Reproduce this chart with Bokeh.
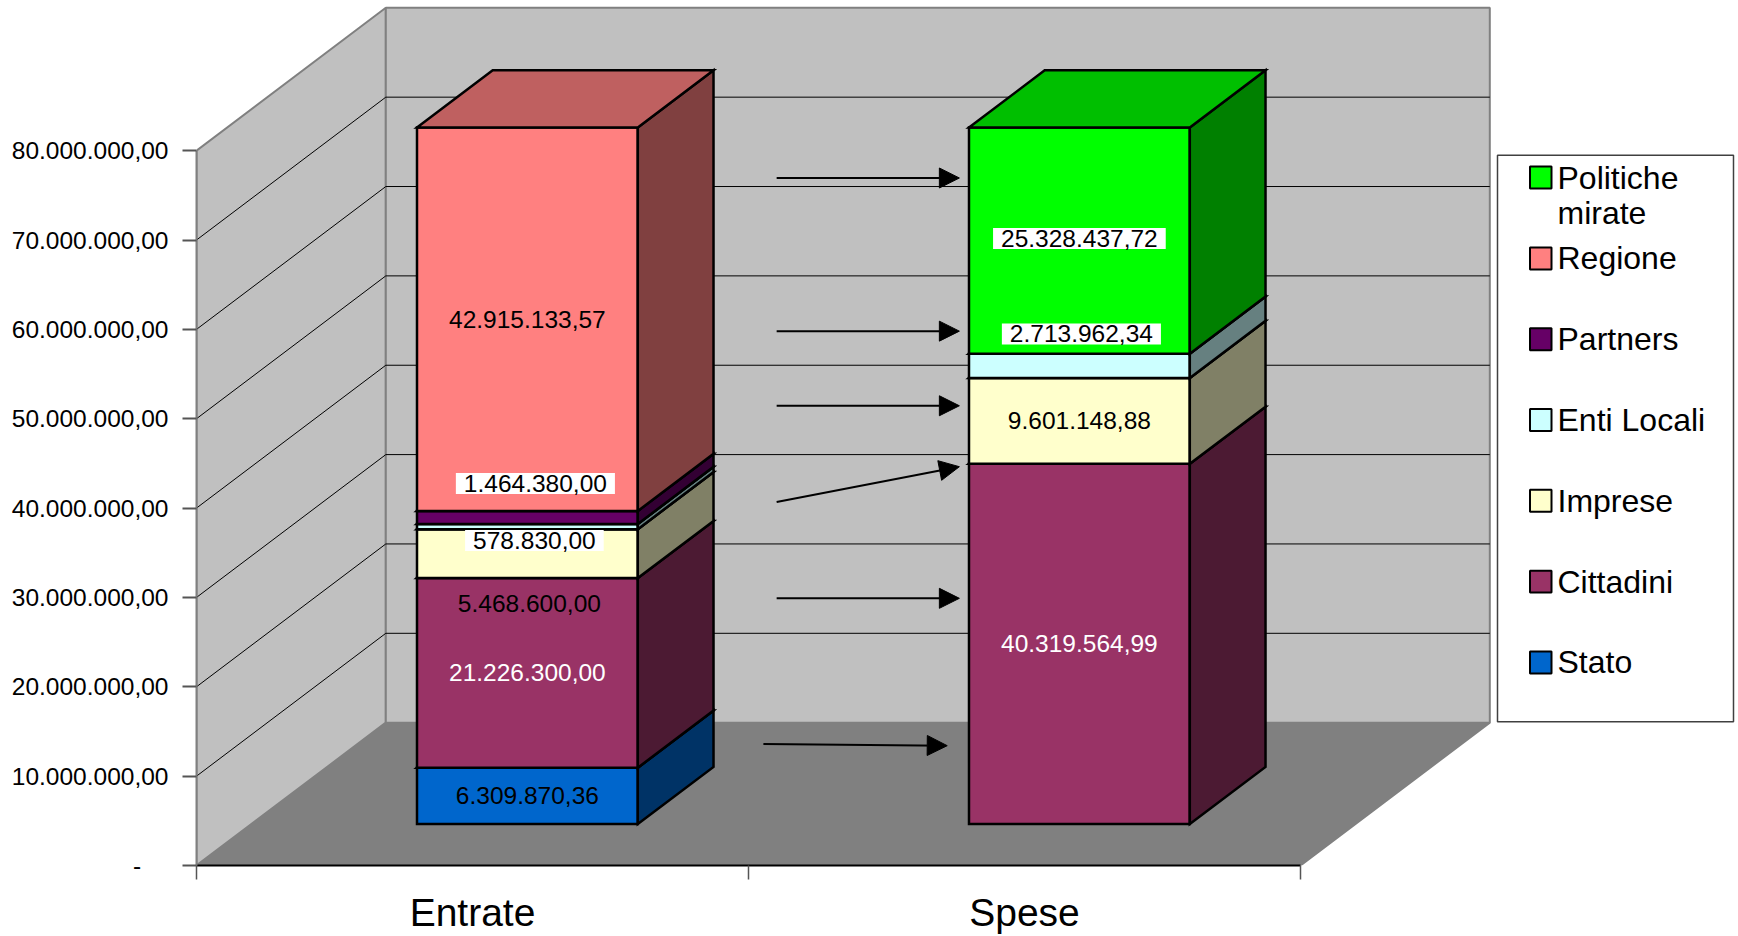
from bokeh.plotting import figure
from bokeh.models import Range1d, FixedTicker, Label, Arrow, NormalHead, ColumnDataSource
from bokeh.core.properties import value
from bokeh.embed import file_html
from bokeh.resources import INLINE

# ---------------------------------------------------------------- data
categories = ["Entrate", "Spese"]
series = ["Stato", "Cittadini", "Imprese", "Enti Locali", "Partners", "Regione", "Politiche mirate"]
stato = [6309870.36, 0.0]
cittadini = [21226300.00, 40319564.99]
imprese = [5468600.00, 9601148.88]
enti_locali = [578830.00, 2713962.34]
partners = [1464380.00, 0.0]
regione = [42915133.57, 0.0]
politiche_mirate = [0.0, 25328437.72]

y_ticks = [0, 10e6, 20e6, 30e6, 40e6, 50e6, 60e6, 70e6, 80e6]
y_tick_labels = ["-", "10.000.000,00", "20.000.000,00", "30.000.000,00", "40.000.000,00",
                 "50.000.000,00", "60.000.000,00", "70.000.000,00", "80.000.000,00"]
legend_order = ["Politiche mirate", "Regione", "Partners", "Enti Locali", "Imprese", "Cittadini", "Stato"]

# flow arrows from the income column to the spending column (category units, euro)
arrow_x0 = [1.051, 1.051, 1.051, 1.051, 1.051, 1.027]
arrow_y0 = [76.94e6, 59.80e6, 51.45e6, 40.68e6, 29.90e6, 13.60e6]
arrow_x1 = [1.382, 1.382, 1.382, 1.382, 1.382, 1.360]
arrow_y1 = [76.94e6, 59.80e6, 51.45e6, 44.63e6, 29.90e6, 13.41e6]

values = {
    "Stato": stato, "Cittadini": cittadini, "Imprese": imprese, "Enti Locali": enti_locali,
    "Partners": partners, "Regione": regione, "Politiche mirate": politiche_mirate,
}

# ---------------------------------------------------------------- styles
front_colors = {
    "Stato": "#0066CC", "Cittadini": "#993366", "Imprese": "#FFFFCC", "Enti Locali": "#CCFFFF",
    "Partners": "#660066", "Regione": "#FF8080", "Politiche mirate": "#00FF00",
}
label_colors = {"Cittadini": "white"}
boxed_labels = {("Partners", 0), ("Enti Locali", 0), ("Enti Locali", 1), ("Politiche mirate", 1)}
# screen-pixel nudges for labels that would otherwise collide
label_shift = {("Imprese", 0): (2, -50), ("Enti Locali", 0): (7, -14),
               ("Partners", 0): (8, 34), ("Enti Locali", 1): (2, 32), ("Politiche mirate", 1): (0, 2)}

FONT = "Liberation Sans"
W, H = 1738, 936
LEFT, BOTTOM = 196, 70
CAT_PX = 552.0          # pixels per category
MIO_PX = 8.946          # pixels per million
FRAME_W, FRAME_H = W - LEFT, H - BOTTOM
DEPTH_DX = 189.3 / CAT_PX            # oblique depth offset, category units
DEPTH_DY = 143.0 / MIO_PX * 1e6      # oblique depth offset, euro
WALL_TOP = 80e6
BAR_X0, BAR_X1 = 0.30, 0.70
D0, D1 = 0.29, 0.69


def proj(x, v, d):
    return x + d * DEPTH_DX, v + d * DEPTH_DY


def poly(pts):
    pp = [proj(*p) for p in pts]
    return [q[0] for q in pp], [q[1] for q in pp]


def shade(hex_color, f):
    r, g, b = (int(hex_color[i:i + 2], 16) for i in (1, 3, 5))
    return "#%02X%02X%02X" % (round(r * f), round(g * f), round(b * f))


def px_x(px):
    return (px - LEFT) / CAT_PX


def px_y(py):
    return (FRAME_H - py) / MIO_PX * 1e6


def it_fmt(v):
    s = f"{v:,.2f}"
    return s.replace(",", "X").replace(".", ",").replace("X", ".")


p = figure(width=W, height=H, output_backend="svg", toolbar_location=None,
           x_range=Range1d(0, FRAME_W / CAT_PX), y_range=Range1d(0, FRAME_H / MIO_PX * 1e6),
           min_border_left=LEFT, min_border_right=0, min_border_top=0, min_border_bottom=BOTTOM)
p.outline_line_color = None
p.xgrid.visible = False
p.ygrid.visible = False
p.background_fill_color = "white"
p.border_fill_color = "white"

# ---------------------------------------------------------------- walls and floor
wall_xs, wall_ys, wall_fill = [], [], []
for pts, col in [
    ([(0, 0, 0), (2, 0, 0), (2, 0, 1), (0, 0, 1)], "#808080"),
    ([(0, 0, 0), (0, 0, 1), (0, WALL_TOP, 1), (0, WALL_TOP, 0)], "#C0C0C0"),
    ([(0, 0, 1), (2, 0, 1), (2, WALL_TOP, 1), (0, WALL_TOP, 1)], "#C0C0C0"),
]:
    xs, ys = poly(pts)
    wall_xs.append(xs)
    wall_ys.append(ys)
    wall_fill.append(col)
p.patches(wall_xs, wall_ys, fill_color=wall_fill, line_color="#808080", line_width=2)

grid_xs, grid_ys = [], []
for t in y_ticks:
    if t <= 0 or t >= WALL_TOP:
        continue
    xs, ys = poly([(0, t, 0), (0, t, 1), (2, t, 1)])
    grid_xs.append(xs)
    grid_ys.append(ys)
p.multi_line(grid_xs, grid_ys, line_color="black", line_width=1)

# ---------------------------------------------------------------- stacked 3D columns
base = [0.0, 0.0]
labels = []
for name in series:
    xs, ys, fills = [], [], []
    for b in range(len(categories)):
        v = values[name][b]
        if v <= 0:
            continue
        lo, hi = base[b], base[b] + v
        base[b] = hi
        x0, x1 = b + BAR_X0, b + BAR_X1
        col = front_colors[name]
        for pts, c in [
            ([(x0, lo, D0), (x1, lo, D0), (x1, hi, D0), (x0, hi, D0)], col),
            ([(x1, lo, D0), (x1, lo, D1), (x1, hi, D1), (x1, hi, D0)], shade(col, 0.5)),
            ([(x0, hi, D0), (x1, hi, D0), (x1, hi, D1), (x0, hi, D1)], shade(col, 0.75)),
        ]:
            fx, fy = poly(pts)
            xs.append(fx)
            ys.append(fy)
            fills.append(c)
        lx, ly = proj((x0 + x1) / 2, (lo + hi) / 2, D0)
        labels.append((name, b, v, lx, ly))
    if xs:
        p.patches(xs, ys, fill_color=fills, line_color="black", line_width=2.5, line_join="miter")

# ---------------------------------------------------------------- flow arrows
arrows = ColumnDataSource(dict(x0=arrow_x0, y0=arrow_y0, x1=arrow_x1, y1=arrow_y1))
p.add_layout(Arrow(source=arrows, x_start="x0", y_start="y0", x_end="x1", y_end="y1",
                   line_color="black", line_width=2,
                   end=NormalHead(size=20, fill_color="black", line_color="black", line_width=1)))

# ---------------------------------------------------------------- value labels
for name, b, v, lx, ly in labels:
    dx, dy = label_shift.get((name, b), (0, 0))
    boxed = (name, b) in boxed_labels
    p.add_layout(Label(x=lx, y=ly, x_offset=dx, y_offset=dy, text=it_fmt(v),
                       text_align="center", text_baseline="middle",
                       text_font=FONT, text_font_size="24.5px",
                       text_color=label_colors.get(name, "black"),
                       background_fill_color="white" if boxed else None,
                       padding=dict(left=8, right=8, top=2, bottom=2) if boxed else 0))

# ---------------------------------------------------------------- axes
p.yaxis.ticker = FixedTicker(ticks=y_ticks, minor_ticks=[])
p.yaxis.major_label_overrides = {t: (lab if t else lab + "\u00a0" * 4) for t, lab in zip(y_ticks, y_tick_labels)}
p.yaxis.bounds = (0, WALL_TOP)
p.yaxis.axis_line_color = "#808080"
p.yaxis.axis_line_width = 2
p.yaxis.major_tick_out = 14
p.yaxis.major_tick_in = 0
p.yaxis.major_tick_line_color = "#555555"
p.yaxis.major_tick_line_width = 2
p.yaxis.major_label_standoff = 14
p.yaxis.major_label_text_font = FONT
p.yaxis.major_label_text_font_size = "24.5px"
p.yaxis.major_label_text_color = "black"

p.xaxis.ticker = FixedTicker(ticks=[0.5, 1.5], minor_ticks=[0, 1, 2])
p.xaxis.major_label_overrides = {0.5: categories[0], 1.5: categories[1]}
p.xaxis.bounds = (0, 2)
p.xaxis.axis_line_color = "black"
p.xaxis.axis_line_width = 2
p.xaxis.major_tick_line_color = None
p.xaxis.major_tick_out = 0
p.xaxis.major_tick_in = 0
p.xaxis.minor_tick_out = 14
p.xaxis.minor_tick_in = 0
p.xaxis.minor_tick_line_color = "#555555"
p.xaxis.minor_tick_line_width = 1.5
p.xaxis.major_label_standoff = 11
p.xaxis.major_label_text_font = FONT
p.xaxis.major_label_text_font_size = "39px"
p.xaxis.major_label_text_color = "black"

# ---------------------------------------------------------------- legend
LEG_L, LEG_R, LEG_T, LEG_B = 1497, 1733, 155, 722
p.quad(left=[px_x(LEG_L)], right=[px_x(LEG_R)], top=[px_y(LEG_T)], bottom=[px_y(LEG_B)],
       fill_color="white", line_color="#404040", line_width=1.5)
row_y = [177.3 + 80.9 * i for i in range(len(legend_order))]
p.quad(left=[px_x(1529.5)] * len(legend_order), right=[px_x(1551)] * len(legend_order),
       top=[px_y(y - 11) for y in row_y], bottom=[px_y(y + 11) for y in row_y],
       fill_color=[front_colors[n] for n in legend_order], line_color="black", line_width=2)
txt, tx, ty = [], [], []
for n, y in zip(legend_order, row_y):
    words = n.split(" ") if n == "Politiche mirate" else [n]
    for k, wd in enumerate(words):
        txt.append(wd)
        tx.append(px_x(1557))
        ty.append(px_y(y + 35.5 * k))
p.text(x=tx, y=ty, text=txt, text_font=value(FONT), text_font_size="32px",
       text_baseline="middle", text_align="left", text_color="black")

open("out.html", "w").write(file_html(p, INLINE))
